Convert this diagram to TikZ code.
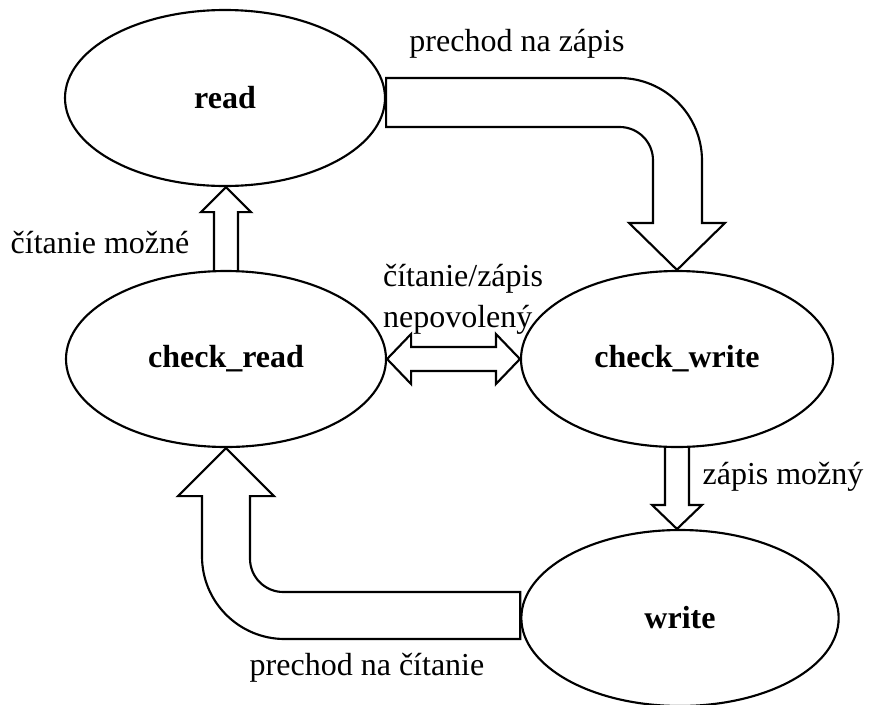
\documentclass[tikz,border=0pt]{standalone}
\usepackage{fontspec}
\setmainfont{Liberation Serif}
\usepackage{tikz}
\usetikzlibrary{shapes.geometric, calc}

\begin{document}
\begin{tikzpicture}[
    x=0.75pt, y=-0.75pt,
    state/.style={ellipse, draw, line width=1.6pt, minimum width=240pt, minimum height=132pt, inner sep=0pt, font=\bfseries\fontsize{24}{28}\selectfont},
    block/.style={draw, line width=1.6pt, line join=miter},
    lbl/.style={font=\fontsize{24}{31}\selectfont}
]
    \useasboundingbox (0,0) rectangle (871,704);

    \node[state] (read) at (225,98) {read};
    \node[state] (chkread) at (226,359) {check\_read};
    \node[state, minimum width=234pt] (chkwrite) at (677,359) {check\_write};
    \node[state, minimum width=238pt] (write) at (680,618) {write};

    % prechod na zapis
    \draw[block] ($(read.east)+(0,-20)$) [rounded corners=62pt]
        -- ($(chkwrite.north |- read.east)+(25,-20)$) [sharp corners]
        -- ($(chkwrite.north)+(25,-47)$) -- ($(chkwrite.north)+(48,-47)$)
        -- (chkwrite.north)
        -- ($(chkwrite.north)+(-48,-47)$) -- ($(chkwrite.north)+(-24,-47)$) [rounded corners=25pt]
        -- ($(chkwrite.north |- read.east)+(-24,29)$) [sharp corners]
        -- ($(read.east)+(0,29)$) -- cycle;

    % prechod na citanie
    \draw[block] ($(write.west)+(0,-26)$) [rounded corners=25pt]
        -- ($(chkread.south |- write.west)+(24,-26)$) [sharp corners]
        -- ($(chkread.south)+(24,48)$) -- ($(chkread.south)+(48,48)$)
        -- (chkread.south)
        -- ($(chkread.south)+(-48,48)$) -- ($(chkread.south)+(-24,48)$) [rounded corners=62pt]
        -- ($(chkread.south |- write.west)+(-24,21)$) [sharp corners]
        -- ($(write.west)+(0,21)$) -- cycle;

    % citanie mozne
    \draw[block] ($(chkread.north)+(-12,0)$)
        -- ($(chkread.north |- read.south)+(-12,25)$) -- ($(chkread.north |- read.south)+(-25,25)$)
        -- (chkread.north |- read.south)
        -- ($(chkread.north |- read.south)+(25,25)$) -- ($(chkread.north |- read.south)+(12,25)$)
        -- ($(chkread.north)+(12,0)$);

    % zapis mozny
    \draw[block] ($(chkwrite.south)+(-12,0)$)
        -- ($(chkwrite.south |- write.north)+(-12,-24)$) -- ($(chkwrite.south |- write.north)+(-25,-24)$)
        -- (chkwrite.south |- write.north)
        -- ($(chkwrite.south |- write.north)+(25,-24)$) -- ($(chkwrite.south |- write.north)+(12,-24)$)
        -- ($(chkwrite.south)+(12,0)$);

    % nepovoleny
    \draw[block] (chkread.east)
        -- ($(chkread.east)+(24,-25)$) -- ($(chkread.east)+(24,-12)$)
        -- ($(chkwrite.west)+(-24,-12)$) -- ($(chkwrite.west)+(-24,-25)$)
        -- (chkwrite.west)
        -- ($(chkwrite.west)+(-24,25)$) -- ($(chkwrite.west)+(-24,12)$)
        -- ($(chkread.east)+(24,12)$) -- ($(chkread.east)+(24,25)$) -- cycle;

    \node[lbl] (toWrite) at (517,44) {prechod na zápis};
    \node[lbl] (readOk) at (100,243) {čítanie možné};
    \node[lbl, align=left] (denied) at (463,299) {čítanie/zápis\\nepovolený};
    \node[lbl] (writeOk) at (783,477) {zápis možný};
    \node[lbl] (toRead) at (367,668) {prechod na čítanie};
\end{tikzpicture}
\end{document}
